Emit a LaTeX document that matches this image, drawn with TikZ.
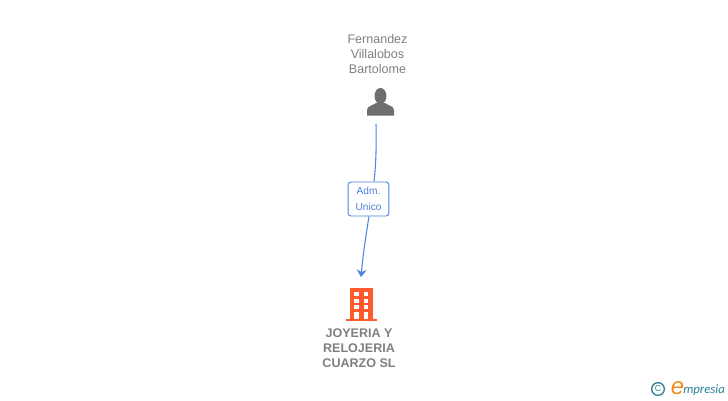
\documentclass[tikz,border=0pt]{standalone}
\usepackage{fontspec}
\setmainfont{Liberation Sans}
\newfontfamily\logofont{Carlito}
\usetikzlibrary{positioning,calc,arrows.meta}
\definecolor{graytext}{HTML}{7F7F7F}
\definecolor{grayicon}{HTML}{6E6E70}
\definecolor{linkblue}{HTML}{4A86E0}
\definecolor{labelblue}{HTML}{4A7FD8}
\definecolor{buildred}{HTML}{FF5A2B}
\definecolor{logoteal}{HTML}{2F7F96}
\definecolor{logoorange}{HTML}{F08A1D}
\tikzset{
	namelabel/.style={text=graytext, align=center, font=\fontsize{9.4}{11.2}\selectfont, inner sep=0pt},
	boldlabel/.style={namelabel, font=\fontsize{9.4}{11.2}\selectfont\bfseries},
	linkline/.style={draw=linkblue, line width=0.8pt}
}
\begin{document}
\begin{tikzpicture}[x=0.75pt,y=-0.75pt]
		\useasboundingbox (0,0) rectangle (728,400);

		\node[namelabel] (person name) at (377.5,54) {Fernandez\\Villalobos\\Bartolome};

		\node[
			inner sep = 0pt,
			minimum width = 21pt,
			minimum height = 21pt
		] (person) at (380.5,102) {};
		\fill[grayicon] (380.5,96) circle [x radius=6, y radius=8];
		\fill[grayicon] (367,115.5) -- (367,110) .. controls (367,106) and (373,105.5) .. (376,103)
			-- (385,103) .. controls (388,105.5) and (394,106) .. (394,110) -- (394,115.5) -- cycle;

		\node[
			draw = linkblue,
			fill = white,
			rounded corners = 2pt,
			line width = 0.7pt,
			text = labelblue,
			align = center,
			font = \fontsize{7.6}{11.5}\selectfont,
			minimum width = 30.5pt,
			minimum height = 25.5pt,
			inner sep = 0pt
		] (role) at (368.5,199) {Adm.\\Unico};

		\node[
			inner sep = 0pt,
			minimum width = 24pt,
			minimum height = 25pt
		] (company) at (359,304) {};
		\fill[buildred] (349.5,287.5) rectangle (372.5,319);
		\fill[buildred] (345.5,318.5) rectangle (377,321);
		\foreach \wy in {292,298.5,305} {
			\fill[white] (354,\wy) rectangle (358.5,\wy+4);
			\fill[white] (363.5,\wy) rectangle (368,\wy+4);
		}
		\fill[white] (354,312) rectangle (358.5,318.5);
		\fill[white] (363.5,312) rectangle (368,318.5);

		\node[boldlabel, below = 6pt of company] (company name) {JOYERIA Y\\RELOJERIA\\CUARZO SL};

		\node[coordinate] (link start) at (376,124) {};
		\node[coordinate] (link end) at (361,277) {};

		\draw[linkline] (link start) .. controls (376.5,145) and (376,165) .. (role.north -| 374,0);
		\draw[linkline, -{Stealth[length=5.5pt,width=7.5pt]}] (role.south -| 369,0) .. controls (366,235) and (363,255) .. (link end);

		\node[
			draw = logoteal,
			circle,
			line width = 1pt,
			text = logoteal,
			font = \fontsize{6.5}{7}\selectfont,
			minimum size = 9.5pt,
			inner sep = 0pt
		] (copyright) at (658,389) {C};
		\node[
			text = logoorange,
			inner sep = 0pt,
			font = \fontsize{18}{18}\selectfont\itshape
		] (logo e) at (677.5,388) {e};
		\node[
			anchor = base west,
			text = logoteal,
			inner sep = 0pt,
			font = \logofont\fontsize{9.6}{10}\selectfont\itshape
		] (logo text) at (683,393) {mpresia};
	\end{tikzpicture}
\end{document}
